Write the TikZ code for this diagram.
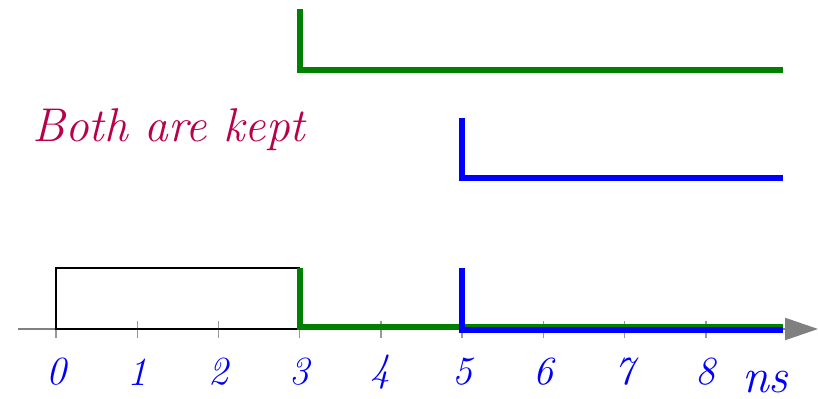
\documentclass[tikz,border=0pt]{standalone}
\usepackage{xcolor}
\usepackage{tikz}
\usetikzlibrary{arrows.meta, positioning}
\definecolor{keepred}{RGB}{185,0,75}
\definecolor{sgreen}{RGB}{0,128,0}

\begin{document}
\begin{tikzpicture}[font=\itshape,
      axis/.style={draw=gray, line width=0.7pt, -{Triangle[length=11.5pt,width=7.7pt]}},
      tick/.style={draw=gray!80, line width=0.5pt},
      lbl/.style={text=blue, font=\fontsize{14}{16}\selectfont\itshape},
      sig/.style={line width=2pt, line join=miter}
    ]
      \useasboundingbox (-0.69,-0.85) rectangle (9.38,4.05);
      % time axis
      \coordinate (start) at (-0.47,0);
      \coordinate (tip) at (9.38,0);
      \draw[axis] (start) -- (tip);
      \foreach \t in {0,...,8} {
        \draw[tick] (\t,0.1) -- (\t,-0.11);
        \node[lbl] (t\t) at (\t,-0.53) {\t};
      }
      \node[text=blue, font=\fontsize{17}{20}\selectfont\itshape] (unit) at (8.73,-0.65) {ns};
      % kept window
      \draw[black, line width=0.5pt] (0,0) rectangle (3,0.75);
      % pulses
      \draw[sig, sgreen] (3,0.75) -- (3,0.025) -- (8.95,0.025);
      \draw[sig, blue] (5,0.75) -- (5,-0.01) -- (8.95,-0.01);
      \draw[sig, sgreen] (3,3.94) -- (3,3.19) -- (8.95,3.19);
      \draw[sig, blue] (5,2.6) -- (5,1.86) -- (8.95,1.86);
      \node[text=keepred, font=\fontsize{16.6}{20}\selectfont\itshape] (both) at (1.39,2.45) {Both are kept};
    \end{tikzpicture}
\end{document}
